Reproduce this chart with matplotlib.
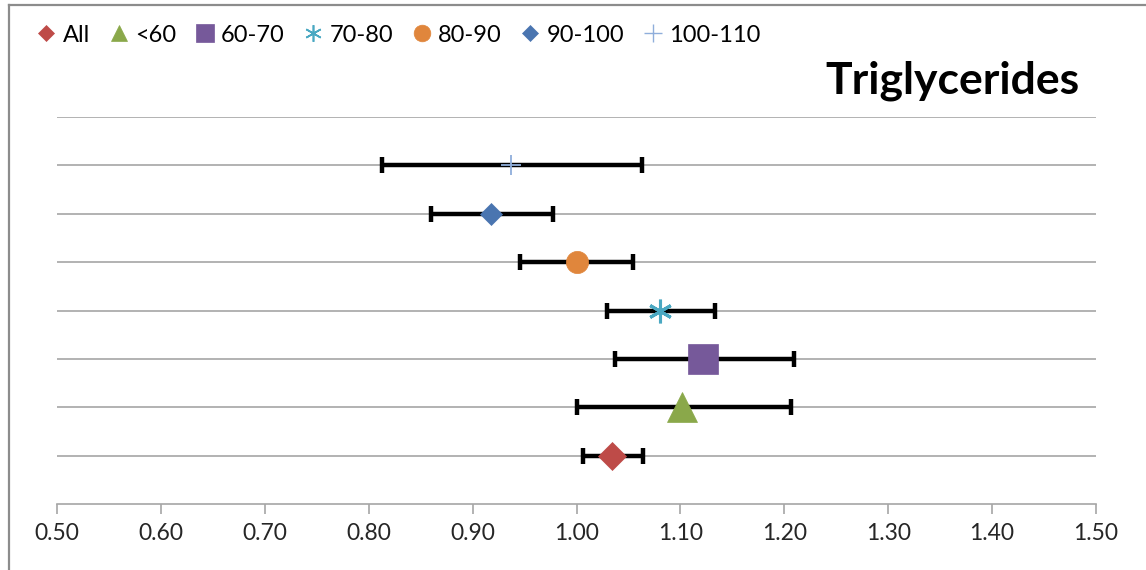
import matplotlib
matplotlib.use("Agg")
import matplotlib.pyplot as plt
from matplotlib.lines import Line2D

plt.rcParams['font.family'] = ['Lato', 'DejaVu Sans']

# ---- data ----
groups = ["All", "<60", "60-70", "70-80", "80-90", "90-100", "100-110"]
estimates = [1.034, 1.102, 1.122, 1.080, 1.000, 0.918, 0.937]
lower = [1.006, 1.000, 1.037, 1.029, 0.946, 0.860, 0.813]
upper = [1.064, 1.206, 1.209, 1.133, 1.054, 0.977, 1.063]
rows = [1, 2, 3, 4, 5, 6, 7]
xticks = [0.50, 0.60, 0.70, 0.80, 0.90, 1.00, 1.10, 1.20, 1.30, 1.40, 1.50]
title = "Triglycerides"

# ---- styles ----
colors = ["#BE4B48", "#8AA84A", "#76599A", "#4AA8C2", "#E0863C", "#4A75B0", "#8FAEDB"]
markers = ["D", "^", "s", (6, 2, 0), "o", "D", "+"]
msizes = [14.5, 22, 21, 17, 16, 11.5, 14.5]
mews = [0.5, 0.5, 0.5, 2.2, 0.5, 0.5, 1.3]
leg_sizes = [8, 12, 12.5, 12, 12, 8.5, 12.5]
leg_mews = [0.5, 0.5, 0.5, 1.2, 0.5, 0.5, 1.0]

fig = plt.figure(figsize=(11.46, 5.70), dpi=100)
ax = fig.add_axes([57/1146, 1 - 504/570, (1096 - 57)/1146, (504 - 117)/570])

grid_col = "#A6A6A6"
for y in range(1, 9):
    ax.axhline(y, color=grid_col, lw=1.2, zorder=0)

for i in range(len(groups)):
    xe = [[estimates[i] - lower[i]], [upper[i] - estimates[i]]]
    ax.errorbar([estimates[i]], [rows[i]], xerr=xe, fmt='none', ecolor='black',
                elinewidth=3.2, capsize=5.5, capthick=3.2, zorder=2)
    ax.plot([estimates[i]], [rows[i]], linestyle='none', marker=markers[i],
            markersize=msizes[i], color=colors[i], markeredgecolor=colors[i],
            markeredgewidth=mews[i], zorder=3)

ax.set_xlim(0.5, 1.5)
ax.set_ylim(0, 8)
ax.set_xticks(xticks)
ax.set_xticklabels([f"{t:.2f}" for t in xticks])
ax.set_yticks([])
for s in ["top", "right", "left"]:
    ax.spines[s].set_visible(False)
ax.spines["bottom"].set_color(grid_col)
ax.spines["bottom"].set_linewidth(1.2)
ax.tick_params(axis='x', direction='out', length=7, width=1.2, color=grid_col,
               labelsize=16.5, labelcolor='#262626', pad=7)

fig.text(1080/1146, 1 - 93/570, title, ha='right', va='baseline',
         fontsize=32, fontweight='bold', color='black')

handles = [Line2D([], [], linestyle='none', marker=markers[i], markersize=leg_sizes[i],
                  color=colors[i], markeredgecolor=colors[i], markeredgewidth=leg_mews[i])
           for i in range(len(groups))]
fig.legend(handles, groups, loc='center left', bbox_to_anchor=(37/1146, 1 - 35/570),
           ncol=7, frameon=False, fontsize=17, handlelength=0.8, handletextpad=0.3,
           columnspacing=0.8, borderaxespad=0, borderpad=0)

# figure border (partially visible)
fig.add_artist(Line2D([9/1146, 9/1146], [0, 1 - 5/570], transform=fig.transFigure,
                      color='#8C8C8C', lw=1.6))
fig.add_artist(Line2D([9/1146, 1], [1 - 5/570, 1 - 5/570], transform=fig.transFigure,
                      color='#8C8C8C', lw=1.6))

fig.savefig("out.png", dpi=100)
